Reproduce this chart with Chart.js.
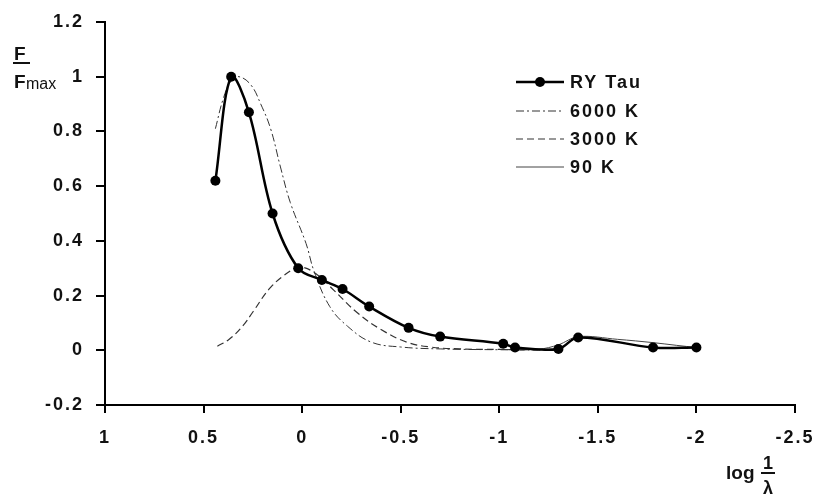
<!DOCTYPE html>
<html>
<head>
<meta charset="utf-8">
<script src="https://cdn.jsdelivr.net/npm/chart.js@4.4.0/dist/chart.umd.min.js"></script>
<style>
  html, body { margin: 0; padding: 0; background: #fff; }
  canvas { display: block; }
</style>
</head>
<body>
<canvas id="sed" width="816" height="495"></canvas>
<script>
// values (x = log 1/lambda, y = F / Fmax)
const ryTauX = [0.44, 0.36, 0.27, 0.15, 0.02, -0.10, -0.205, -0.34, -0.54, -0.70, -1.02, -1.08, -1.30, -1.40, -1.78, -2.0];
const ryTauY = [0.62, 1.0, 0.87, 0.50, 0.30, 0.257, 0.224, 0.16, 0.082, 0.05, 0.024, 0.01, 0.005, 0.047, 0.01, 0.01];

const k6000X = [0.44, 0.40, 0.36, 0.32, 0.26, 0.21, 0.16, 0.11, 0.06, -0.02, -0.06, -0.14, -0.23, -0.35, -0.5, -0.7, -1.0, -1.3];
const k6000Y = [0.81, 0.92, 0.985, 1.0, 0.97, 0.90, 0.81, 0.67, 0.54, 0.39, 0.29, 0.16, 0.088, 0.03, 0.012, 0.005, 0.002, 0.0];

const k3000X = [0.43, 0.37, 0.30, 0.25, 0.16, 0.06, 0.01, -0.07, -0.16, -0.28, -0.40, -0.53, -0.65, -0.8, -1.0, -1.2];
const k3000Y = [0.015, 0.04, 0.09, 0.14, 0.23, 0.29, 0.305, 0.28, 0.22, 0.137, 0.076, 0.03, 0.012, 0.005, 0.003, 0.002];

const k90X = [-1.0, -1.2, -1.3, -1.4, -1.6, -1.78, -1.9, -2.0];
const k90Y = [0.003, 0.004, 0.02, 0.05, 0.04, 0.028, 0.018, 0.01];

const xTicks = [1, 0.5, 0, -0.5, -1, -1.5, -2, -2.5];
const yTicks = [-0.2, 0, 0.2, 0.4, 0.6, 0.8, 1, 1.2];

const seriesNames = ["RY Tau", "6000 K", "3000 K", "90 K"];

function points(xs, ys) {
  return xs.map((x, i) => ({ x: x, y: ys[i] }));
}

const FONT = "'Liberation Sans', Arial, sans-serif";

const spacing = {
  id: "spacing",
  beforeUpdate(chart) { chart.ctx.letterSpacing = "2px"; },
  beforeDraw(chart) { chart.ctx.letterSpacing = "2px"; },
};

const legendBox = {
  id: "legendBox",
  afterDraw(chart) {
    const ctx = chart.ctx;
    const rows = [82, 111, 139, 167];
    ctx.save();
    ctx.letterSpacing = "2px";
    chart.data.datasets.forEach((ds, i) => {
      const y = rows[i];
      ctx.strokeStyle = ds.borderColor;
      ctx.lineWidth = ds.borderWidth;
      ctx.setLineDash(ds.borderDash || []);
      ctx.beginPath();
      ctx.moveTo(516, y);
      ctx.lineTo(564, y);
      ctx.stroke();
      ctx.setLineDash([]);
      if (ds.pointRadius > 0) {
        ctx.fillStyle = ds.pointBackgroundColor;
        ctx.beginPath();
        ctx.arc(540, y, ds.pointRadius, 0, Math.PI * 2);
        ctx.fill();
      }
      ctx.fillStyle = "#111";
      ctx.font = "bold 18px " + FONT;
      ctx.textBaseline = "middle";
      ctx.textAlign = "left";
      ctx.fillText(ds.label, 570, y + 1);
    });
    ctx.restore();
  },
};

const axisTitles = {
  id: "axisTitles",
  afterDraw(chart) {
    const ctx = chart.ctx;
    ctx.save();
    ctx.letterSpacing = "0px";
    ctx.fillStyle = "#111";
    ctx.strokeStyle = "#111";
    ctx.textBaseline = "alphabetic";
    // F / Fmax
    ctx.font = "bold 19px " + FONT;
    ctx.textAlign = "left";
    ctx.fillText("F", 14, 60);
    ctx.lineWidth = 2;
    ctx.beginPath();
    ctx.moveTo(13, 63);
    ctx.lineTo(30, 63);
    ctx.stroke();
    ctx.fillText("F", 14, 88);
    ctx.font = "16px " + FONT;
    ctx.fillText("max", 26, 89);
    // log 1/lambda
    ctx.font = "bold 19px " + FONT;
    ctx.fillText("log", 726, 479);
    ctx.textAlign = "center";
    ctx.font = "bold 18px " + FONT;
    ctx.fillText("1", 768, 469);
    ctx.beginPath();
    ctx.moveTo(761, 473);
    ctx.lineTo(775, 473);
    ctx.stroke();
    ctx.fillText("\u03bb", 768, 494);
    ctx.restore();
  },
};

const tickFont = { family: FONT, size: 18, weight: "bold" };

new Chart(document.getElementById("sed"), {
  type: "line",
  data: {
    datasets: [
      {
        label: seriesNames[0],
        data: points(ryTauX, ryTauY),
        borderColor: "#000",
        borderWidth: 2.5,
        pointRadius: 5,
        pointBackgroundColor: "#000",
        pointBorderWidth: 0,
        tension: 0.35,
      },
      {
        label: seriesNames[1],
        data: points(k6000X, k6000Y),
        borderColor: "#333",
        borderWidth: 1,
        borderDash: [8, 3, 2, 3],
        pointRadius: 0,
        tension: 0.4,
      },
      {
        label: seriesNames[2],
        data: points(k3000X, k3000Y),
        borderColor: "#333",
        borderWidth: 1.2,
        borderDash: [7, 4],
        pointRadius: 0,
        tension: 0.4,
      },
      {
        label: seriesNames[3],
        data: points(k90X, k90Y),
        borderColor: "#444",
        borderWidth: 1,
        pointRadius: 0,
        tension: 0.35,
      },
    ],
  },
  options: {
    responsive: false,
    animation: false,
    layout: { padding: { top: 22, right: 21, left: 0, bottom: 0 } },
    plugins: {
      legend: { display: false },
      tooltip: { enabled: false },
    },
    scales: {
      x: {
        type: "linear",
        reverse: true,
        min: -2.5,
        max: 1,
        afterBuildTicks: (scale) => {
          scale.ticks = xTicks.map((v) => ({ value: v }));
        },
        afterFit: (scale) => {
          scale.height = 90;
          scale.paddingLeft = 0;
          scale.paddingRight = 0;
        },
        ticks: {
          color: "#111",
          font: tickFont,
          padding: 14,
          maxRotation: 0,
          autoSkip: false,
          callback: (v) => String(v),
        },
        grid: {
          drawOnChartArea: false,
          drawTicks: true,
          tickLength: 8,
          color: "#000",
          lineWidth: 2,
        },
        border: { display: true, color: "#000", width: 2 },
      },
      y: {
        type: "linear",
        min: -0.2,
        max: 1.2,
        afterBuildTicks: (scale) => {
          scale.ticks = yTicks.map((v) => ({ value: v }));
        },
        afterFit: (scale) => {
          scale.width = 105;
          scale.paddingTop = 0;
          scale.paddingBottom = 0;
        },
        ticks: {
          color: "#111",
          font: tickFont,
          padding: 12,
          autoSkip: false,
          callback: (v) => String(v),
        },
        grid: {
          drawOnChartArea: false,
          drawTicks: true,
          tickLength: 9,
          color: "#000",
          lineWidth: 2,
        },
        border: { display: true, color: "#000", width: 2 },
      },
    },
  },
  plugins: [spacing, legendBox, axisTitles],
});
</script>
</body>
</html>
